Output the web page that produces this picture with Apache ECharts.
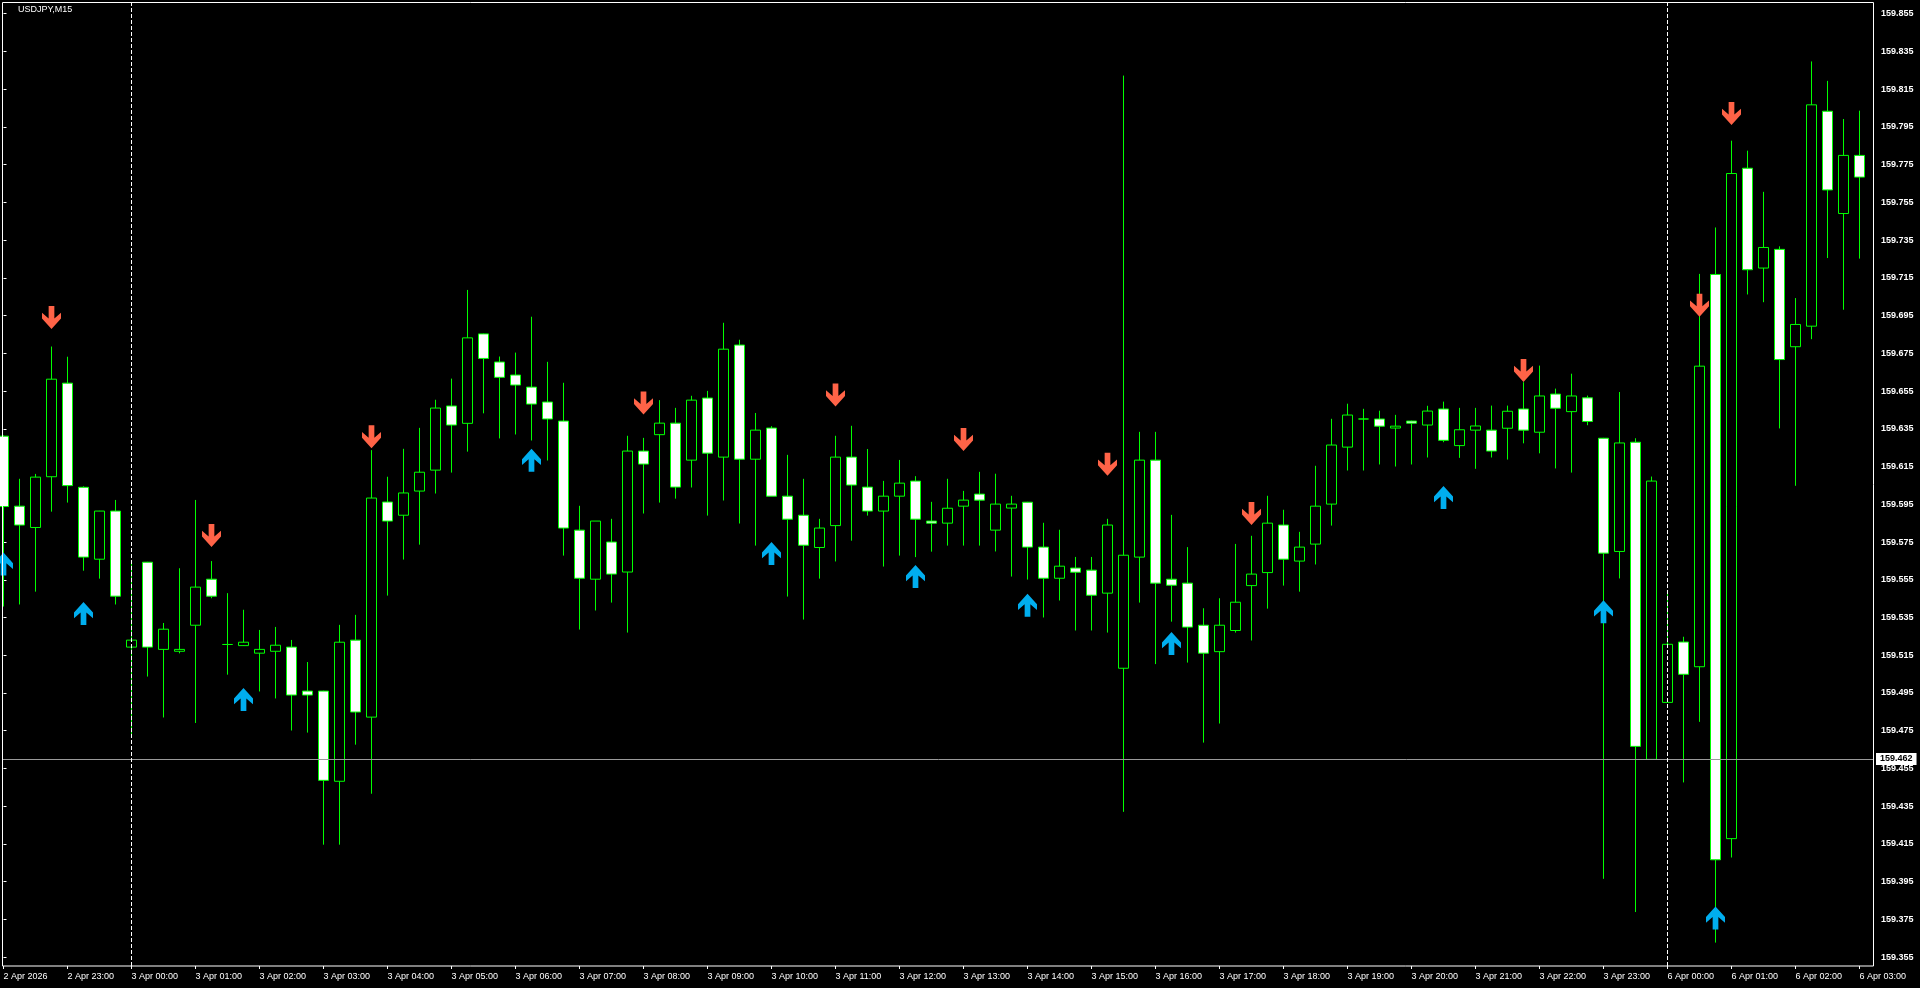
<!DOCTYPE html>
<html><head><meta charset="utf-8">
<script src="https://cdn.jsdelivr.net/npm/echarts@6/dist/echarts.min.js"></script>
<style>html,body{margin:0;padding:0;background:#000;overflow:hidden}#c{width:1920px;height:988px;}</style>
</head><body><div id="c"></div>
<script>
const symbolTitle = 'USDJPY,M15';
const opens = [159.6311,159.5940,159.5827,159.6096,159.6592,159.6040,159.5659,159.5914,159.5193,159.5643,
159.5181,159.5171,159.5309,159.5553,159.5207,159.5201,159.5161,159.5171,159.5193,159.4960,
159.4960,159.4482,159.5230,159.4822,159.5962,159.5892,159.6020,159.6131,159.6471,159.6379,
159.6853,159.6704,159.6635,159.6571,159.6492,159.6391,159.5813,159.5553,159.5750,159.5591,
159.6232,159.6319,159.6380,159.6184,159.6513,159.6200,159.6794,159.6189,159.6354,159.5993,
159.5892,159.5721,159.5837,159.6200,159.6041,159.5914,159.5993,159.6073,159.5861,159.5850,
159.5940,159.6004,159.5813,159.5930,159.5961,159.5723,159.5558,159.5612,159.5601,159.5479,
159.5081,159.5670,159.6184,159.5553,159.5532,159.5309,159.5169,159.5281,159.5519,159.5588,
159.5840,159.5649,159.5739,159.5951,159.6253,159.6402,159.6402,159.6354,159.6391,159.6370,
159.6455,159.6261,159.6343,159.6343,159.6353,159.6455,159.6332,159.6534,159.6441,159.6514,
159.6300,159.5700,159.6279,159.4598,159.4900,159.5220,159.5089,159.7168,159.4178,159.7731,
159.7202,159.7301,159.6785,159.6894,159.8033,159.7491,159.7799];
const highs = [159.6315,159.6085,159.6111,159.6786,159.6732,159.6045,159.5915,159.5973,159.5650,159.5645,
159.5321,159.5611,159.5973,159.5649,159.5479,159.5391,159.5284,159.5300,159.5231,159.5114,
159.4962,159.5311,159.5364,159.6237,159.6096,159.6244,159.6355,159.6504,159.6616,159.7086,
159.6855,159.6733,159.6754,159.6944,159.6705,159.6594,159.5942,159.5861,159.5873,159.6313,
159.6302,159.6502,159.6461,159.6525,159.6551,159.6912,159.6822,159.6434,159.6364,159.6212,
159.6085,159.5873,159.6313,159.6366,159.6243,159.6074,159.6185,159.6099,159.5963,159.6085,
159.6021,159.6122,159.6112,159.5995,159.5963,159.5852,159.5815,159.5671,159.5671,159.5873,
159.8222,159.6334,159.6334,159.5894,159.5723,159.5399,159.5452,159.5740,159.5783,159.5995,
159.5921,159.5804,159.6154,159.6403,159.6483,159.6456,159.6446,159.6424,159.6393,159.6472,
159.6494,159.6461,159.6461,159.6473,159.6473,159.6597,159.6685,159.6563,159.6642,159.6526,
159.6302,159.6545,159.6300,159.6097,159.5492,159.5248,159.7171,159.7417,159.7877,159.7824,
159.7606,159.7317,159.7043,159.8297,159.8194,159.7992,159.8036];
const lows = [159.5408,159.5419,159.5487,159.5911,159.5959,159.5598,159.5556,159.5419,159.4720,159.5037,
159.4820,159.5160,159.4791,159.5452,159.5047,159.5199,159.4958,159.4921,159.4751,159.4740,
159.4146,159.4146,159.4676,159.4416,159.5466,159.5657,159.5736,159.6007,159.6118,159.6229,
159.6432,159.6299,159.6320,159.6288,159.6182,159.5678,159.5286,159.5387,159.5429,159.5270,
159.5901,159.5959,159.5980,159.6039,159.5890,159.5970,159.5848,159.5731,159.5993,159.5461,
159.5339,159.5556,159.5647,159.5757,159.5890,159.5620,159.5678,159.5670,159.5699,159.5731,
159.5731,159.5731,159.5700,159.5567,159.5551,159.5350,159.5440,159.5281,159.5281,159.5270,
159.4320,159.5429,159.5103,159.5328,159.5111,159.4687,159.4788,159.5270,159.5228,159.5397,
159.5519,159.5487,159.5631,159.5837,159.6129,159.6129,159.6161,159.6150,159.6161,159.6198,
159.6279,159.6196,159.6138,159.6198,159.6187,159.6273,159.6220,159.6140,159.6118,159.6369,
159.3965,159.5557,159.3789,159.4597,159.4899,159.4476,159.4797,159.3627,159.4078,159.7062,
159.7021,159.6352,159.6048,159.6825,159.7255,159.6981,159.7252];
const closes = [159.5938,159.5840,159.6094,159.6613,159.6049,159.5670,159.5914,159.5463,159.5230,159.5193,
159.5288,159.5181,159.5511,159.5463,159.5207,159.5219,159.5181,159.5203,159.4939,159.4939,
159.4487,159.5219,159.4849,159.5983,159.5861,159.6010,159.6120,159.6460,159.6370,159.6832,
159.6723,159.6623,159.6582,159.6481,159.6402,159.5824,159.5558,159.5861,159.5580,159.6232,
159.6163,159.6380,159.6041,159.6502,159.6221,159.6772,159.6189,159.6343,159.5993,159.5871,
159.5733,159.5824,159.6200,159.6052,159.5914,159.5993,159.6062,159.5871,159.5850,159.5929,
159.5972,159.5972,159.5951,159.5951,159.5723,159.5558,159.5622,159.5590,159.5468,159.5840,
159.5680,159.6184,159.5532,159.5521,159.5299,159.5161,159.5309,159.5431,159.5580,159.5850,
159.5659,159.5723,159.5940,159.6264,159.6423,159.6402,159.6364,159.6364,159.6380,159.6444,
159.6289,159.6345,159.6365,159.6232,159.6443,159.6343,159.6524,159.6459,159.6524,159.6389,
159.5691,159.6275,159.4667,159.6073,159.5208,159.5049,159.6682,159.4066,159.7703,159.7193,
159.7311,159.6717,159.6903,159.8067,159.7616,159.7799,159.7684];

const upArrowIdx = [0, 5, 15, 33, 48, 57, 64, 73, 90, 100, 107];
const upArrowPrice = [159.5633, 159.5371, 159.4916, 159.6184, 159.5689, 159.5567, 159.5415, 159.5212, 159.5986, 159.5381, 159.3757];
const downArrowIdx = [3, 13, 23, 40, 52, 60, 69, 78, 95, 106, 108];
const downArrowPrice = [159.6940, 159.5784, 159.6308, 159.6487, 159.6529, 159.6293, 159.6162, 159.5901, 159.6659, 159.7005, 159.8021];

const xTickIdx = [0,4,8,12,16,20,24,28,32,36,40,44,48,52,56,60,64,68,72,76,80,84,88,92,96,100,104,108,112,116];
const xTickLabels = ['2 Apr 2026','2 Apr 23:00','3 Apr 00:00','3 Apr 01:00','3 Apr 02:00','3 Apr 03:00','3 Apr 04:00',
'3 Apr 05:00','3 Apr 06:00','3 Apr 07:00','3 Apr 08:00','3 Apr 09:00','3 Apr 10:00','3 Apr 11:00','3 Apr 12:00',
'3 Apr 13:00','3 Apr 14:00','3 Apr 15:00','3 Apr 16:00','3 Apr 17:00','3 Apr 18:00','3 Apr 19:00','3 Apr 20:00',
'3 Apr 21:00','3 Apr 22:00','3 Apr 23:00','6 Apr 00:00','6 Apr 01:00','6 Apr 02:00','6 Apr 03:00'];
const priceTicks = [159.355,159.375,159.395,159.415,159.435,159.455,159.475,159.495,159.515,159.535,159.555,
159.575,159.595,159.615,159.635,159.655,159.675,159.695,159.715,159.735,159.755,159.775,159.795,159.815,159.835,159.855];
const bidPrice = 159.462;
const separatorIdx = [8, 104];

const labelByIdx = {};
xTickIdx.forEach((v, k) => { labelByIdx[v] = xTickLabels[k]; });
const candleData = opens.map((o, i) => [i, o, closes[i], lows[i], highs[i]]);
const upPath = 'path://M7 24 L13 24 L13 11 L20 17 L20 11 L10 0 L0 11 L0 17 L7 11 Z';
const downPath = 'path://M7 0 L13 0 L13 13 L20 7 L20 13 L10 24 L0 13 L0 7 L7 13 Z';
const FONT = 'Liberation Sans';

const chart = echarts.init(document.getElementById('c'), null, {renderer: 'canvas'});
const markData = [{
  yAxis: bidPrice,
  lineStyle: {color: '#9a9a9a', width: 1, type: 'solid'},
  label: {show: true, position: 'end', formatter: bidPrice.toFixed(3), backgroundColor: '#fff', color: '#000',
    padding: [2, 4, 1, 4], fontSize: 9, fontWeight: 'bold', fontFamily: FONT, distance: 2}
}];
separatorIdx.forEach(x => markData.push({
  xAxis: x, lineStyle: {color: '#fff', width: 1, type: [4, 2]}, label: {show: false}
}));

chart.setOption({
  backgroundColor: '#000',
  animation: false,
  grid: {left: 3, right: 46, top: 2, bottom: 22, show: false},
  xAxis: {
    type: 'value', min: -0.03125, max: 116.90625,
    splitLine: {show: false}, axisLine: {show: false},
    axisTick: {show: true, customValues: xTickIdx, length: 3, lineStyle: {color: '#fff'}},
    axisLabel: {show: true, customValues: xTickIdx, formatter: v => labelByIdx[Math.round(v)] || '',
      align: 'left', color: '#fff', fontSize: 9, fontFamily: FONT, margin: 6}
  },
  yAxis: {
    type: 'value', position: 'right', min: 159.3503, max: 159.8612, scale: true,
    splitLine: {show: false}, axisLine: {show: false},
    axisTick: {show: true, customValues: priceTicks, length: 3, lineStyle: {color: '#fff'}},
    axisLabel: {show: true, customValues: priceTicks, formatter: v => Number(v).toFixed(3),
      color: '#fff', fontSize: 9, fontWeight: 'bold', fontFamily: FONT, margin: 7}
  },
  series: [{
    type: 'candlestick',
    data: candleData,
    barWidth: 10,
    silent: true,
    itemStyle: {color: '#000', color0: '#fff', borderColor: '#00ff00', borderColor0: '#00ff00', borderWidth: 1},
    markLine: {silent: true, symbol: ['none', 'none'], animation: false, data: markData}
  }, {
    type: 'scatter', silent: true, z: 5,
    data: upArrowIdx.map((x, k) => [x, upArrowPrice[k]]),
    symbol: upPath, symbolSize: [19, 23], itemStyle: {color: '#00AEEF', opacity: 1}
  }, {
    type: 'scatter', silent: true, z: 5,
    data: downArrowIdx.map((x, k) => [x, downArrowPrice[k]]),
    symbol: downPath, symbolSize: [19, 23], itemStyle: {color: '#FF6347', opacity: 1}
  }],
  graphic: [{
    type: 'rect', silent: true, z: 100,
    shape: {x: 2.5, y: 2.5, width: 1871, height: 963.5},
    style: {fill: 'rgba(0,0,0,0)', stroke: '#fff', lineWidth: 1}
  }, {
    type: 'text', left: 18, top: 5, silent: true, z: 100,
    style: {text: symbolTitle, fill: '#fff', font: '9px "Liberation Sans"'}
  }]
});
</script>
</body></html>
